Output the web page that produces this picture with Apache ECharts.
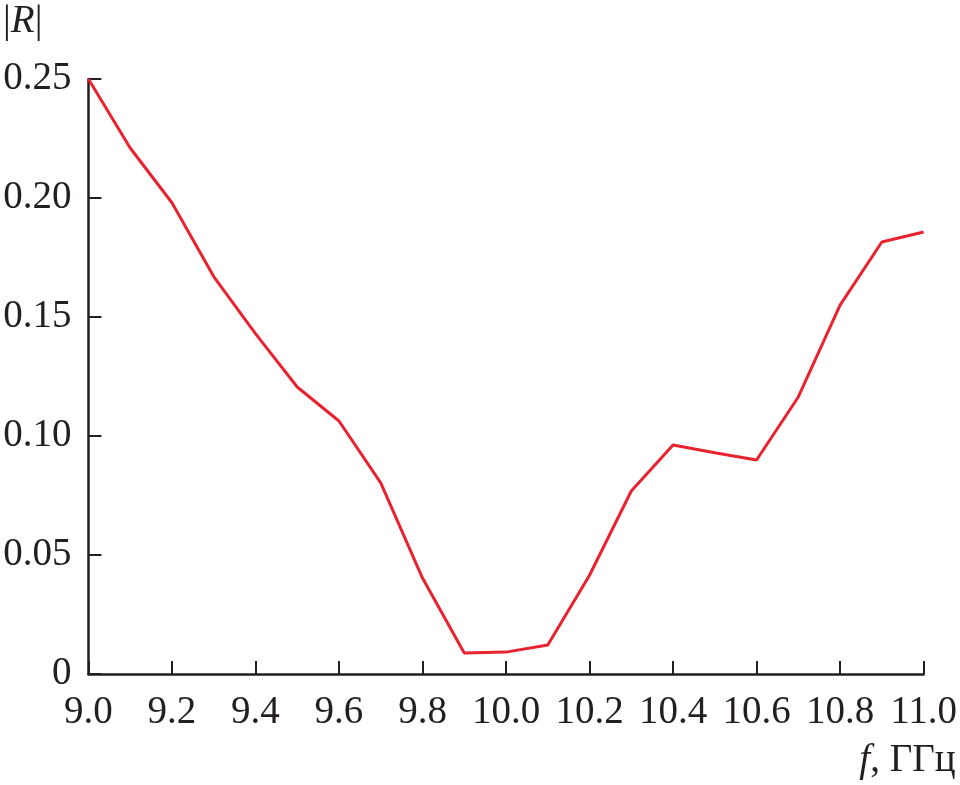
<!DOCTYPE html>
<html>
<head>
<meta charset="utf-8">
<script src="https://cdn.jsdelivr.net/npm/echarts@6/dist/echarts.min.js"></script>
<style>html,body{margin:0;padding:0;background:#fff}#c{width:960px;height:785px}</style>
</head>
<body>
<div id="c"></div>
<script>
var freq = [9.0, 9.1, 9.2, 9.3, 9.4, 9.5, 9.6, 9.7, 9.8, 9.9, 10.0, 10.1, 10.2, 10.3, 10.4, 10.5, 10.6, 10.7, 10.8, 10.9, 11.0];
var refl = [0.250, 0.221, 0.198, 0.167, 0.143, 0.1206, 0.1063, 0.0803, 0.0403, 0.0088, 0.0092, 0.0122, 0.0415, 0.0769, 0.0962, 0.093, 0.0899, 0.1164, 0.155, 0.1815, 0.1857];
var data = freq.map(function (f, i) { return [f, refl[i]]; });
var FONT = '"Liberation Serif", "DejaVu Serif", serif';
var axisColor = '#231f20';
var chart = echarts.init(document.getElementById('c'));
chart.setOption({
  animation: false,
  backgroundColor: '#fff',
  grid: { left: 87, right: 34, top: 79, bottom: 111 },
  xAxis: {
    type: 'value', min: 9, max: 11, interval: 0.2,
    name: '{i|f}{n|, ГГц}',
    nameLocation: 'end', nameGap: 32,
    nameTextStyle: {
      align: 'right', verticalAlign: 'top', padding: [67, 0, 0, 0],
      rich: {
        i: { fontFamily: FONT, fontSize: 39, fontStyle: 'italic', color: axisColor },
        n: { fontFamily: FONT, fontSize: 39, color: axisColor }
      }
    },
    axisLine: { lineStyle: { color: axisColor, width: 2.5 } },
    axisTick: { inside: true, length: 13, lineStyle: { color: axisColor, width: 2 } },
    axisLabel: { margin: 19, fontFamily: FONT, fontSize: 39, color: axisColor,
      formatter: function (v) { return v.toFixed(1); } },
    splitLine: { show: false }
  },
  yAxis: {
    type: 'value', min: 0, max: 0.25, interval: 0.05,
    name: '{a||}{i|R}{a||}',
    nameLocation: 'end', nameGap: 38,
    nameTextStyle: {
      align: 'right', verticalAlign: 'bottom', padding: [0, 46, 0, 0],
      rich: {
        a: { fontFamily: FONT, fontSize: 39, color: axisColor },
        i: { fontFamily: FONT, fontSize: 39, fontStyle: 'italic', color: axisColor }
      }
    },
    axisLine: { show: true, lineStyle: { color: axisColor, width: 2.5 } },
    axisTick: { show: true, inside: true, length: 13, lineStyle: { color: axisColor, width: 2 } },
    axisLabel: { margin: 17, fontFamily: FONT, fontSize: 39, color: axisColor,
      formatter: function (v) { return v === 0 ? '0' : v.toFixed(2); } },
    splitLine: { show: false }
  },
  series: [{
    type: 'line', data: data, showSymbol: false, symbol: 'none',
    lineStyle: { color: '#e8232f', width: 3 },
    clip: false
  }]
});
</script>
</body>
</html>
